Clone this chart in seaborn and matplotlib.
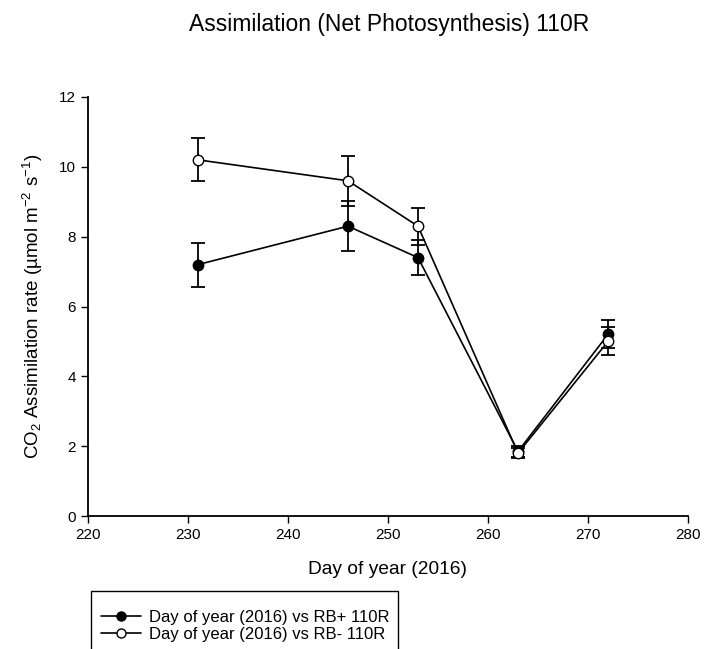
import matplotlib
matplotlib.use("Agg")
import matplotlib.pyplot as plt
import seaborn as sns
import pandas as pd
import numpy as np
from matplotlib.lines import Line2D
from matplotlib.patches import Rectangle

days = [231, 246, 253, 263, 272]
rb_plus = [7.2, 8.3, 7.4, 1.85, 5.2]
rb_plus_err = [0.63, 0.71, 0.5, 0.15, 0.4]
rb_minus = [10.2, 9.6, 8.3, 1.8, 5.0]
rb_minus_err = [0.62, 0.72, 0.53, 0.15, 0.4]
labels = ["Day of year (2016) vs RB+ 110R", "Day of year (2016) vs RB- 110R"]

sns.set_style("ticks")
plt.rcParams['font.family'] = ['Liberation Sans', 'DejaVu Sans']
plt.rcParams['mathtext.fontset'] = 'custom'
plt.rcParams['mathtext.rm'] = 'Liberation Sans'
plt.rcParams['mathtext.it'] = 'Liberation Sans:italic'
plt.rcParams['text.color'] = 'black'
plt.rcParams['axes.labelcolor'] = 'black'

df = pd.concat([
    pd.DataFrame({"day": days, "val": rb_plus, "err": rb_plus_err, "series": labels[0]}),
    pd.DataFrame({"day": days, "val": rb_minus, "err": rb_minus_err, "series": labels[1]}),
])

fig = plt.figure(figsize=(7.05, 6.49), dpi=100)
ax = fig.add_axes([88/705, 1-516/649, 600/705, 419/649])

for lab in labels:
    sub = df[df.series == lab]
    ax.errorbar(sub.day, sub.val, yerr=sub.err, fmt="none", ecolor="black",
                elinewidth=1.3, capsize=4.7, capthick=1.3, zorder=2)
sns.lineplot(data=df, x="day", y="val", hue="series", palette=["black", "black"],
             style="series", markers=["o", "o"], dashes=False, ax=ax, legend=False,
             linewidth=1.2, markersize=7.5, markeredgecolor="black", zorder=3)
for line, fc in zip(ax.lines[-2:], ["black", "white"]):
    line.set_markerfacecolor(fc)
    line.set_markeredgecolor("black")
    line.set_markeredgewidth(1.0)

ax.set_xlim(220, 280)
ax.set_ylim(0, 12)
ax.set_xticks(np.arange(220, 281, 10))
ax.set_yticks(np.arange(0, 13, 2))
ax.tick_params(direction="out", length=5, width=1, labelsize=11, colors="black")
for s in ["top", "right"]:
    ax.spines[s].set_visible(False)
for s in ["left", "bottom"]:
    ax.spines[s].set_linewidth(1.3)
    ax.spines[s].set_color("black")
ax.set_xlabel("Day of year (2016)", fontsize=13.8, labelpad=14, color="black")
ax.set_ylabel(r"CO$_2$ Assimilation rate (µmol m$^{-2}$ s$^{-1}$)", fontsize=13.5, labelpad=10, color="black")
fig.text(389/705, 1-25/649, "Assimilation (Net Photosynthesis) 110R", ha="center", va="center",
         fontsize=16.5, color="black")

# legend frame (extends beyond bottom edge of the figure, as in the reference)
fig.patches.append(Rectangle((91/705, 1-660/649), (398-91)/705, (660-591)/649,
                             transform=fig.transFigure, fill=False, edgecolor="black",
                             linewidth=1.0))
handles = [Line2D([], [], color="black", marker="o", markerfacecolor=fc, markeredgecolor="black",
                  markersize=6.5, linewidth=1.2) for fc in ["black", "white"]]
leg = fig.legend(handles, labels, loc="upper left", bbox_to_anchor=(101/705, 1-610/649),
                 frameon=False, fontsize=12, handlelength=2.4,
                 borderpad=0, labelspacing=0.1, handletextpad=0.5, borderaxespad=0)
for t in leg.get_texts():
    t.set_color("black")

fig.savefig("out.png", dpi=100)
